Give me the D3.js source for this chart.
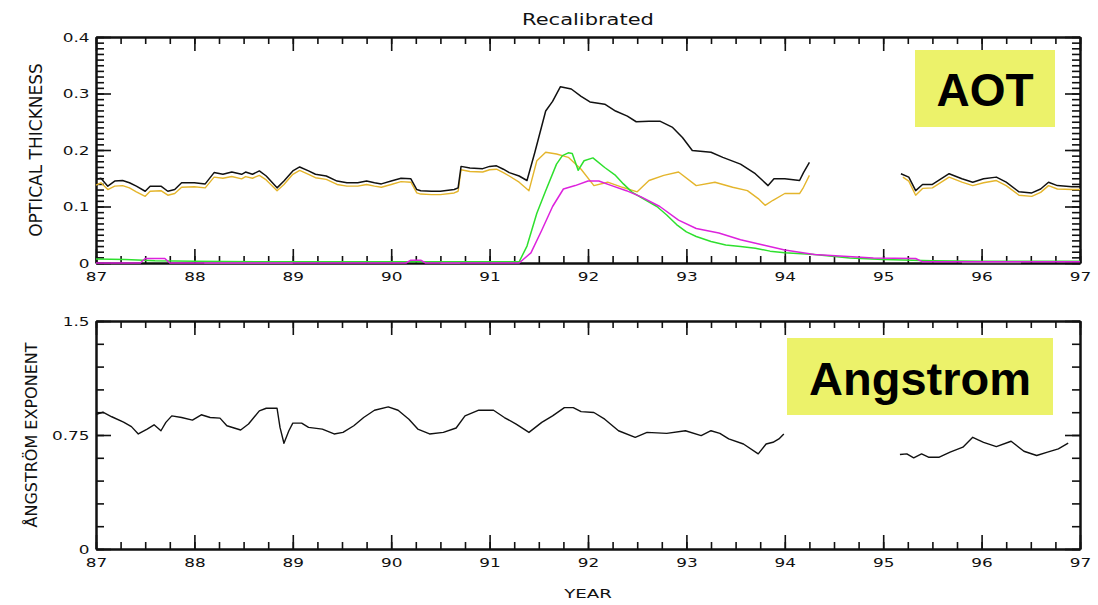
<!DOCTYPE html>
<html lang="en">
<head>
<meta charset="UTF-8">
<title>Recalibrated</title>
<script src="https://d3js.org/d3.v7.min.js"></script>
<style>
  body { margin: 0; background: #fff; }
  .axis path { stroke: #111; stroke-width: 2; }
  .axis line { stroke: #111; stroke-width: 1.6; }
  .axis text { font-family: "DejaVu Sans", sans-serif; font-size: 13px; fill: #111; }
  .lbl { font-family: "DejaVu Sans", sans-serif; fill: #111; }
  .tag { font-family: "Liberation Sans", Arial, sans-serif; font-weight: bold; fill: #000; }
</style>
</head>
<body>
<div id="chart"></div>
<script>
// ---- data ----
const blackYears = [87.0,87.05,87.12,87.19,87.27,87.34,87.41,87.5,87.55,87.66,87.73,87.8,87.87,88.0,88.11,88.2,88.29,88.38,88.48,88.52,88.59,88.66,88.73,88.84,88.91,89.0,89.07,89.16,89.23,89.34,89.45,89.55,89.66,89.75,89.83,89.9,90.0,90.1,90.2,90.26,90.3,90.41,90.5,90.64,90.68,90.71,90.8,90.93,91.0,91.07,91.14,91.2,91.3,91.38,91.46,91.57,91.64,91.72,91.83,91.93,92.02,92.17,92.28,92.4,92.49,92.62,92.73,92.86,92.96,93.06,93.25,93.37,93.55,93.7,93.83,93.89,94.0,94.15,94.19,94.25,94.7,95.18,95.26,95.33,95.4,95.5,95.67,95.8,95.91,96.02,96.15,96.25,96.38,96.51,96.6,96.68,96.77,96.92,97.0];
const blackAOT = [0.148,0.150,0.136,0.145,0.146,0.142,0.136,0.127,0.136,0.136,0.127,0.130,0.142,0.142,0.140,0.160,0.157,0.161,0.157,0.161,0.157,0.163,0.154,0.133,0.145,0.163,0.170,0.163,0.157,0.154,0.145,0.142,0.142,0.145,0.142,0.140,0.145,0.150,0.149,0.130,0.128,0.127,0.127,0.130,0.133,0.171,0.168,0.167,0.171,0.172,0.166,0.160,0.154,0.146,0.196,0.269,0.286,0.312,0.308,0.295,0.285,0.281,0.269,0.260,0.250,0.251,0.251,0.240,0.222,0.199,0.196,0.187,0.175,0.158,0.137,0.149,0.149,0.146,0.160,0.178,null,0.158,0.152,0.128,0.139,0.139,0.158,0.149,0.143,0.149,0.152,0.143,0.126,0.124,0.131,0.143,0.137,0.135,0.135];

const yellowYears = [87.0,87.05,87.12,87.19,87.27,87.34,87.41,87.5,87.55,87.66,87.73,87.8,87.87,88.0,88.11,88.2,88.29,88.38,88.48,88.52,88.59,88.66,88.73,88.84,88.91,89.0,89.07,89.16,89.23,89.34,89.45,89.55,89.66,89.75,89.83,89.9,90.0,90.1,90.2,90.26,90.3,90.41,90.5,90.64,90.68,90.71,90.8,90.93,91.0,91.07,91.14,91.2,91.3,91.4,91.48,91.57,91.68,91.8,91.93,92.06,92.2,92.35,92.5,92.62,92.77,92.92,93.1,93.29,93.47,93.62,93.73,93.8,93.88,94.0,94.15,94.19,94.25,94.7,95.2,95.26,95.33,95.4,95.5,95.67,95.8,95.91,96.02,96.15,96.25,96.38,96.51,96.6,96.68,96.77,96.92,97.0];
const yellowAOT = [0.138,0.142,0.130,0.136,0.137,0.133,0.126,0.118,0.127,0.128,0.120,0.123,0.134,0.135,0.133,0.152,0.150,0.153,0.149,0.153,0.150,0.155,0.147,0.128,0.139,0.157,0.164,0.157,0.151,0.148,0.139,0.136,0.136,0.139,0.136,0.134,0.139,0.144,0.143,0.124,0.122,0.121,0.121,0.124,0.127,0.165,0.162,0.161,0.165,0.166,0.160,0.154,0.143,0.128,0.181,0.196,0.193,0.187,0.166,0.137,0.143,0.134,0.126,0.146,0.155,0.161,0.137,0.143,0.134,0.128,0.114,0.102,0.111,0.123,0.123,0.134,0.155,null,0.152,0.145,0.120,0.132,0.133,0.152,0.143,0.137,0.142,0.146,0.137,0.120,0.118,0.125,0.137,0.131,0.130,0.130];

const greenYears = [87.0,87.3,87.6,88.0,89.0,91.3,91.38,91.48,91.57,91.68,91.74,91.8,91.84,91.9,91.96,92.05,92.17,92.28,92.36,92.45,92.55,92.7,92.8,92.9,93.0,93.1,93.25,93.4,93.55,93.7,93.85,94.0,94.3,94.66,95.0,95.5,96.0,97.0];
const greenAOT = [0.007,0.006,0.004,0.003,0.002,0.002,0.030,0.088,0.128,0.175,0.190,0.195,0.194,0.164,0.181,0.186,0.169,0.155,0.140,0.125,0.115,0.100,0.085,0.068,0.055,0.047,0.038,0.032,0.029,0.026,0.021,0.018,0.015,0.009,0.006,0.004,0.003,0.003];

const magentaYears = [87.0,87.45,87.5,87.7,87.75,90.15,90.2,90.3,90.35,91.3,91.42,91.53,91.64,91.75,91.87,92.0,92.11,92.24,92.39,92.54,92.73,92.92,93.1,93.33,93.55,93.78,94.0,94.3,94.6,94.9,95.33,95.4,97.0];
const magentaAOT = [0.0,0.0,0.008,0.008,0.0,0.0,0.005,0.005,0.0,0.0,0.018,0.058,0.100,0.131,0.137,0.145,0.145,0.137,0.128,0.117,0.100,0.076,0.061,0.053,0.041,0.032,0.023,0.015,0.012,0.009,0.008,0.002,0.002];

const grayYears = [88.1,89.0,89.1,90.5,90.7,90.8,95.8,96.4];
const grayAOT = [0.0,0.0,null,0.0,0.0,null,0.001,0.001];

const angYears = [87.0,87.07,87.16,87.28,87.36,87.43,87.52,87.59,87.66,87.71,87.77,87.87,87.98,88.07,88.16,88.26,88.33,88.47,88.55,88.66,88.73,88.84,88.87,88.91,88.96,89.0,89.09,89.16,89.3,89.42,89.51,89.62,89.72,89.83,89.97,90.07,90.18,90.27,90.39,90.53,90.66,90.75,90.89,91.04,91.15,91.27,91.4,91.53,91.64,91.76,91.85,91.93,92.06,92.17,92.31,92.48,92.6,92.8,92.99,93.15,93.25,93.34,93.43,93.58,93.73,93.81,93.88,93.94,93.99,94.5,95.17,95.24,95.31,95.39,95.46,95.57,95.68,95.81,95.91,96.02,96.15,96.3,96.43,96.56,96.67,96.78,96.88];
const angExp = [0.885,0.900,0.870,0.835,0.805,0.757,0.789,0.817,0.778,0.833,0.876,0.865,0.848,0.883,0.865,0.861,0.811,0.783,0.822,0.909,0.926,0.926,0.800,0.696,0.778,0.828,0.828,0.800,0.789,0.757,0.767,0.811,0.865,0.913,0.935,0.913,0.854,0.789,0.757,0.767,0.796,0.876,0.913,0.913,0.865,0.822,0.767,0.833,0.876,0.930,0.930,0.904,0.898,0.854,0.778,0.735,0.767,0.761,0.778,0.746,0.778,0.761,0.724,0.691,0.626,0.691,0.702,0.724,0.757,null,0.622,0.626,0.600,0.626,0.604,0.604,0.637,0.670,0.735,0.702,0.674,0.709,0.643,0.615,0.637,0.659,0.696];

const yearTicks = [87,88,89,90,91,92,93,94,95,96,97];
const aotTicks = [0,0.1,0.2,0.3,0.4];
const angTicks = [0,0.75,1.5];

// ---- layout ----
const W = 1098, H = 605;
const svg = d3.select("#chart").append("svg").attr("width", W).attr("height", H);

const x = d3.scaleLinear().domain([87, 97]).range([96, 1080]);
const yTop = d3.scaleLinear().domain([0, 0.4]).range([263, 37]);
const yBot = d3.scaleLinear().domain([0, 1.5]).range([549, 321]);

const minorX = d3.range(87, 97.001, 0.25);

function frame(y, majors, minorStep, top, bottom) {
  const minorY = d3.range(0, y.domain()[1] + 1e-6, minorStep);
  const fmt = d => d === 0 ? "0" : (d === 0.75 ? "0.75" : d3.format(".1f")(d));
  // minor ticks
  svg.append("g").attr("class", "axis").attr("transform", `translate(0,${bottom})`)
    .call(d3.axisBottom(x).tickValues(minorX).tickSize(-7).tickSizeOuter(0).tickFormat(""));
  svg.append("g").attr("class", "axis").attr("transform", `translate(0,${top})`)
    .call(d3.axisTop(x).tickValues(minorX).tickSize(-7).tickSizeOuter(0).tickFormat(""));
  svg.append("g").attr("class", "axis").attr("transform", "translate(96,0)")
    .call(d3.axisLeft(y).tickValues(minorY).tickSize(-8).tickSizeOuter(0).tickFormat(""));
  svg.append("g").attr("class", "axis").attr("transform", "translate(1080,0)")
    .call(d3.axisRight(y).tickValues(minorY).tickSize(-8).tickSizeOuter(0).tickFormat(""));
  // major ticks
  const bx = svg.append("g").attr("class", "axis").attr("transform", `translate(0,${bottom})`)
    .call(d3.axisBottom(x).tickValues(yearTicks).tickSize(-14).tickSizeOuter(0).tickPadding(9).tickFormat(d => d));
  bx.selectAll("text").attr("transform", "scale(1.3,1)");
  svg.append("g").attr("class", "axis").attr("transform", `translate(0,${top})`)
    .call(d3.axisTop(x).tickValues(yearTicks).tickSize(-14).tickSizeOuter(0).tickFormat(""));
  const ly = svg.append("g").attr("class", "axis").attr("transform", "translate(96,0)")
    .call(d3.axisLeft(y).tickValues(majors).tickSize(-15).tickSizeOuter(0).tickPadding(5).tickFormat(fmt));
  ly.selectAll("text").attr("transform", "scale(1.3,1)");
  svg.append("g").attr("class", "axis").attr("transform", "translate(1080,0)")
    .call(d3.axisRight(y).tickValues(majors).tickSize(-15).tickSizeOuter(0).tickFormat(""));
}

frame(yTop, aotTicks, 0.01, 37, 263);
frame(yBot, angTicks, 0.15, 321, 549);

// ---- lines ----
function drawLine(xs, vs, y, color, w) {
  const pts = xs.map((d, i) => [d, vs[i]]);
  svg.append("path")
    .datum(pts)
    .attr("fill", "none")
    .attr("stroke", color)
    .attr("stroke-width", w)
    .attr("stroke-linejoin", "round")
    .attr("d", d3.line().defined(d => d[1] !== null).x(d => x(d[0])).y(d => y(d[1])));
}

drawLine(yellowYears, yellowAOT, yTop, "#e4b52c", 1.4);
drawLine(blackYears, blackAOT, yTop, "#111", 1.5);
drawLine(grayYears, grayAOT, yTop, "#999", 1.5);
drawLine(greenYears, greenAOT, yTop, "#2ee02e", 1.5);
drawLine(magentaYears, magentaAOT, yTop, "#dd22dd", 1.5);
drawLine(angYears, angExp, yBot, "#111", 1.4);

// ---- text ----
svg.append("text").attr("class", "lbl").attr("font-size", 15)
  .attr("text-anchor", "middle").attr("transform", "translate(588,25) scale(1.4,1)")
  .text("Recalibrated");

svg.append("text").attr("class", "lbl").attr("font-size", 13)
  .attr("text-anchor", "middle").attr("transform", "translate(588,598) scale(1.4,1)")
  .text("YEAR");

svg.append("text").attr("class", "lbl").attr("font-size", 17)
  .attr("text-anchor", "middle").attr("transform", "translate(42,150) rotate(-90)")
  .text("OPTICAL THICKNESS");

svg.append("text").attr("class", "lbl").attr("font-size", 16)
  .attr("text-anchor", "middle").attr("transform", "translate(37,435) rotate(-90)")
  .text("ÅNGSTRÖM EXPONENT");

// ---- labelled boxes ----
svg.append("rect").attr("x", 915).attr("y", 50).attr("width", 140).attr("height", 77).attr("fill", "#ecf26a");
svg.append("text").attr("class", "tag").attr("font-size", 46).attr("text-anchor", "middle")
  .attr("x", 985).attr("y", 106).text("AOT");

svg.append("rect").attr("x", 787).attr("y", 338).attr("width", 266).attr("height", 77).attr("fill", "#ecf26a");
svg.append("text").attr("class", "tag").attr("font-size", 47).attr("text-anchor", "middle")
  .attr("x", 920).attr("y", 395).text("Angstrom");
</script>
</body>
</html>
